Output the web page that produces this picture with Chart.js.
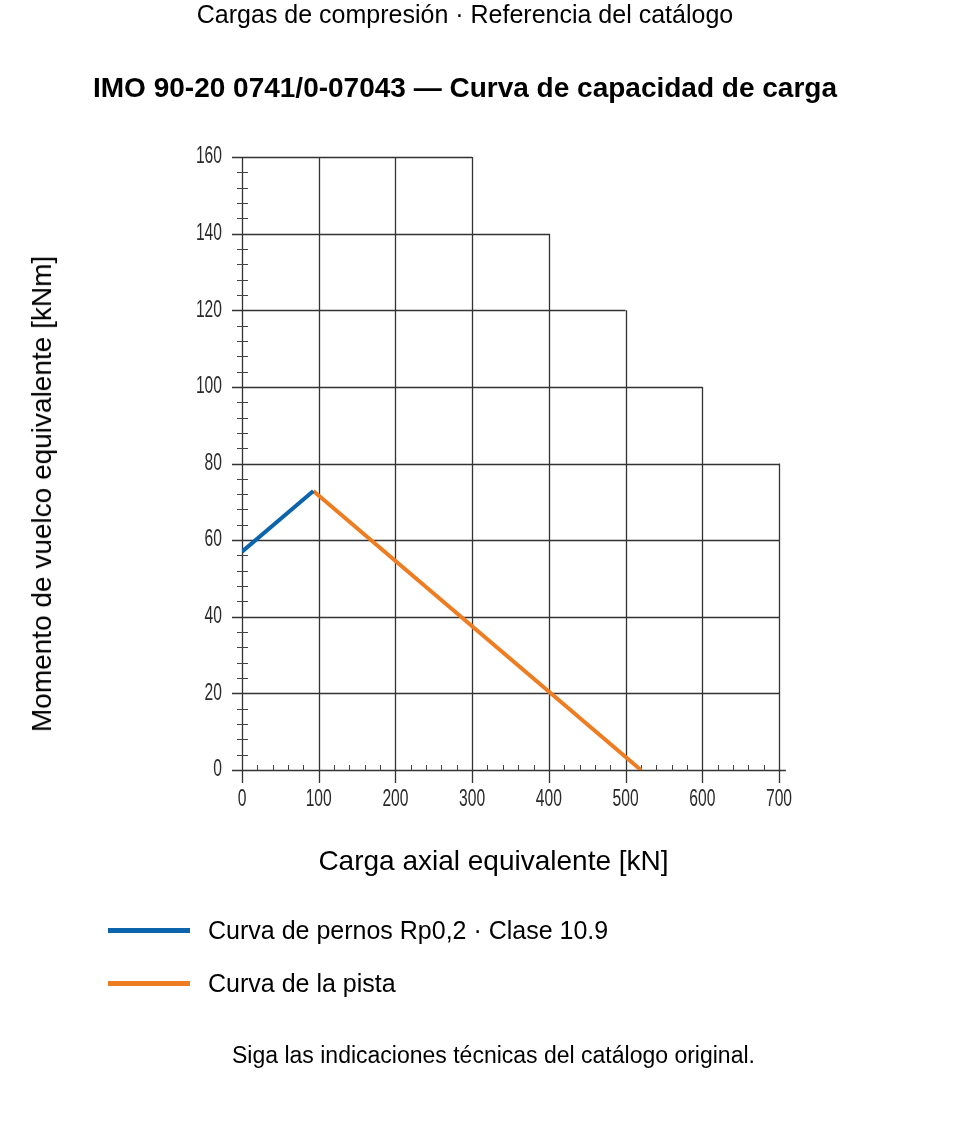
<!DOCTYPE html>
<html>
<head>
<meta charset="utf-8">
<script src="https://cdn.jsdelivr.net/npm/chart.js@4.4.0/dist/chart.umd.min.js"></script>
<style>
  body { margin: 0; background: #fff; font-family: "Liberation Sans", Arial, sans-serif; }
  #wrap { position: relative; width: 960px; height: 1138px; }
  #chart { position: absolute; left: 0; top: 0; }
  .txt { position: absolute; white-space: nowrap; color: #000; }
  .legend-line { position: absolute; height: 5px; width: 82px; left: 108px; }
</style>
</head>
<body>
<div id="wrap">
  <canvas id="chart" width="960" height="1138"></canvas>
  <div class="txt" style="left:0;width:930px;text-align:center;top:0px;font-size:25px;">Cargas de compresión · Referencia del catálogo</div>
  <div class="txt" style="left:0;width:930px;text-align:center;top:72px;font-size:28px;font-weight:bold;">IMO 90-20 0741/0-07043 — Curva de capacidad de carga</div>
  <div class="txt" style="left:0;width:987px;text-align:center;top:845px;font-size:28px;">Carga axial equivalente [kN]</div>
  <div class="txt" style="left:42px;top:494px;font-size:28px;transform:translate(-50%,-50%) rotate(-90deg);">Momento de vuelco equivalente [kNm]</div>
  <div class="legend-line" style="top:928px;background:#0b64ac;"></div>
  <div class="txt" style="left:208px;top:916px;font-size:25px;">Curva de pernos Rp0,2 · Clase 10.9</div>
  <div class="legend-line" style="top:981px;background:#ee7d22;"></div>
  <div class="txt" style="left:208px;top:969px;font-size:25px;">Curva de la pista</div>
  <div class="txt" style="left:0;width:987px;text-align:center;top:1042px;font-size:23px;">Siga las indicaciones técnicas del catálogo original.</div>
</div>
<script>
"use strict";

// data
var boltX = [0, 93];
var boltY = [57, 72.8];
var raceX = [93, 520];
var raceY = [72.8, 0];

var xTicks = [0, 100, 200, 300, 400, 500, 600, 700];
var yTicks = [0, 20, 40, 60, 80, 100, 120, 140, 160];
// stepped grid: top of each vertical line / right end of each horizontal line
var vLineTop = [160, 160, 160, 160, 140, 120, 100, 80];
var hLineEnd = [700, 700, 700, 700, 700, 600, 500, 400, 300];

function toPoints(xs, ys) {
    return xs.map(function (x, i) { return { x: x, y: ys[i] }; });
}

// narrow tick labels: regular face squeezed horizontally
function narrowText(c, text, x, y, align) {
    var squeeze = 0.68;
    c.save();
    c.translate(x, y);
    c.scale(squeeze, 1);
    c.textAlign = align;
    c.fillText(text, 0, 0);
    c.restore();
}

var gridPlugin = {
    id: "steppedGrid",
    beforeDatasetsDraw: function (chart) {
        var c = chart.ctx;
        var sx = chart.scales.x;
        var sy = chart.scales.y;
        var x0 = sx.getPixelForValue(0);
        var y0 = sy.getPixelForValue(0);
        c.save();
        c.strokeStyle = "#333";
        c.lineWidth = 1.3;
        c.beginPath();
        // vertical lines
        xTicks.forEach(function (v, i) {
            var px = Math.round(sx.getPixelForValue(v)) + 0.5;
            c.moveTo(px, sy.getPixelForValue(vLineTop[i]));
            c.lineTo(px, y0 + 13);
        });
        // horizontal lines
        yTicks.forEach(function (v, i) {
            var py = Math.round(sy.getPixelForValue(v)) + 0.5;
            c.moveTo(x0 - 10, py);
            c.lineTo(i === 0 ? sx.getPixelForValue(709) : sx.getPixelForValue(hLineEnd[i]), py);
        });
        c.stroke();
        // minor ticks
        c.lineWidth = 1;
        c.strokeStyle = "#444";
        c.beginPath();
        for (var y = 4; y < 160; y += 4) {
            if (y % 20 === 0) continue;
            var py = Math.round(sy.getPixelForValue(y)) + 0.5;
            c.moveTo(x0 - 5, py);
            c.lineTo(x0 + 6, py);
        }
        for (var x = 20; x < 700; x += 20) {
            if (x % 100 === 0) continue;
            var px = Math.round(sx.getPixelForValue(x)) + 0.5;
            c.moveTo(px, y0 - 5);
            c.lineTo(px, y0 + 1);
        }
        c.stroke();
        // tick labels
        c.fillStyle = "#2a2a2a";
        c.font = "23px 'Liberation Sans', Arial, sans-serif";
        c.textBaseline = "middle";
        yTicks.forEach(function (v) {
            narrowText(c, String(v), x0 - 20, sy.getPixelForValue(v), "right");
        });
        xTicks.forEach(function (v) {
            narrowText(c, String(v), sx.getPixelForValue(v), y0 + 30, "center");
        });
        c.restore();
    }
};

new Chart(document.getElementById("chart"), {
    type: "line",
    data: {
        datasets: [
            {
                label: "Curva de pernos Rp0,2 · Clase 10.9",
                data: toPoints(boltX, boltY),
                borderColor: "#0b64ac",
                borderWidth: 4,
                pointRadius: 0,
                fill: false
            },
            {
                label: "Curva de la pista",
                data: toPoints(raceX, raceY),
                borderColor: "#ee7d22",
                borderWidth: 4,
                pointRadius: 0,
                fill: false
            }
        ]
    },
    options: {
        responsive: false,
        animation: false,
        devicePixelRatio: 1,
        layout: { padding: { left: 242, right: 181, top: 157, bottom: 368 } },
        plugins: { legend: { display: false }, title: { display: false }, tooltip: { enabled: false } },
        scales: {
            x: { type: "linear", min: 0, max: 700, display: false },
            y: { type: "linear", min: 0, max: 160, display: false }
        }
    },
    plugins: [gridPlugin]
});
</script>
</body>
</html>
